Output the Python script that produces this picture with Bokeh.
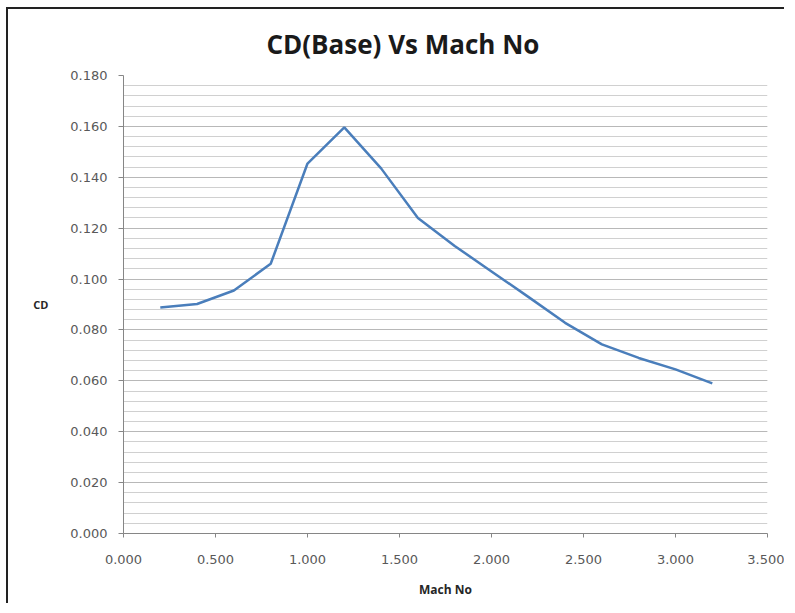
from bokeh.plotting import figure
from bokeh.models import SingleIntervalTicker, NumeralTickFormatter, Range1d
from bokeh.embed import file_html
from bokeh.resources import INLINE

# Data
mach_no = [0.2, 0.4, 0.6, 0.8, 1.0, 1.2, 1.4, 1.6, 1.8, 2.0, 2.2, 2.4, 2.6, 2.8, 3.0, 3.2]
cd_base = [0.0888, 0.0902, 0.0955, 0.1060, 0.1454, 0.1596, 0.1435, 0.1240, 0.1130,
           0.1030, 0.0930, 0.0828, 0.0743, 0.0690, 0.0645, 0.0590]

title_text = "CD(Base) Vs Mach No"
x_label = "Mach No"
y_label = "CD"

p = figure(width=778, height=596, output_backend="svg", toolbar_location=None,
           x_range=Range1d(0, 3.5), y_range=Range1d(0, 0.18),
           min_border_left=115, min_border_right=19, min_border_top=66, min_border_bottom=72)
p.styles = {"margin-left": "6px", "margin-top": "7px",
            "border-left": "2px solid #222", "border-top": "2px solid #222"}
p.outline_line_color = None
p.background_fill_color = "white"

p.line(mach_no, cd_base, line_color="#4a7ebb", line_width=2.5)

tick_font = "DejaVu Sans"
# X axis
p.xaxis.ticker = SingleIntervalTicker(interval=0.5)
p.xaxis.formatter = NumeralTickFormatter(format="0.000")
p.xaxis.minor_tick_line_color = None
p.xaxis.major_tick_out = 4
p.xaxis.major_tick_in = 0
p.xaxis.axis_line_color = "#868686"
p.xaxis.major_tick_line_color = "#868686"
p.xaxis.major_label_text_font = tick_font
p.xaxis.major_label_text_font_size = "13px"
p.xaxis.major_label_text_color = "#595959"
p.xaxis.major_label_standoff = 17
p.xaxis.axis_label = x_label
p.xaxis.axis_label_text_font = "Open Sans"
p.xaxis.axis_label_text_font_style = "bold"
p.xaxis.axis_label_text_font_size = "12px"
p.xaxis.axis_label_text_color = "#262626"
p.xaxis.axis_label_standoff = 14

# Y axis
p.yaxis.ticker = SingleIntervalTicker(interval=0.02, num_minor_ticks=5)
p.yaxis.formatter = NumeralTickFormatter(format="0.000")
p.yaxis.minor_tick_line_color = None
p.yaxis.major_tick_out = 5
p.yaxis.major_tick_in = 0
p.yaxis.axis_line_color = "#868686"
p.yaxis.major_tick_line_color = "#868686"
p.yaxis.major_label_text_font = tick_font
p.yaxis.major_label_text_font_size = "13px"
p.yaxis.major_label_text_color = "#595959"
p.yaxis.major_label_standoff = 11
p.yaxis.axis_label = y_label
p.yaxis.axis_label_orientation = "horizontal"
p.yaxis.axis_label_text_font = "Open Sans"
p.yaxis.axis_label_text_font_style = "bold"
p.yaxis.axis_label_text_font_size = "11px"
p.yaxis.axis_label_text_color = "#262626"
p.yaxis.axis_label_standoff = 19

# Grid
p.xgrid.grid_line_color = None
p.ygrid.grid_line_color = "#b8b8b8"
p.ygrid.minor_grid_line_color = "#d0d0d0"

# Title, centred over the whole chart rather than the plot frame
p.title.text = title_text
p.title.align = "left"
p.title.offset = 143
p.title.standoff = 27
p.title.text_font = "Open Sans"
p.title.text_font_style = "bold"
p.title.text_font_size = "26px"
p.title.text_color = "#1a1a1a"

open("out.html", "w").write(file_html(p, INLINE))
